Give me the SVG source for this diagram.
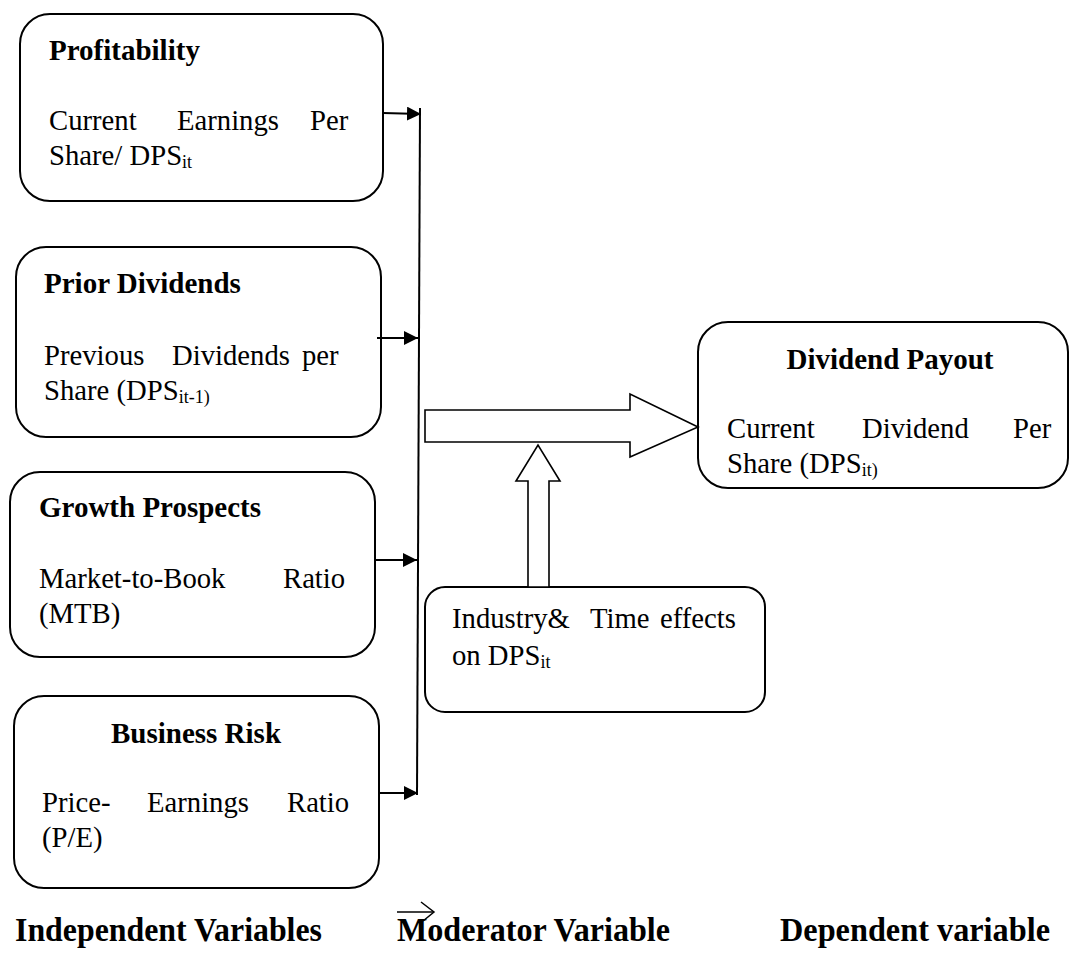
<svg xmlns="http://www.w3.org/2000/svg" width="1070" height="956" viewBox="0 0 1070 956">
<style>
.box{fill:#fff;stroke:#000;stroke-width:2}
.t{font-family:"Liberation Serif","Times New Roman",serif;font-size:28.7px;fill:#000}
.b{font-weight:bold;font-size:29px}
.sub{font-size:18px}
.big{fill:#fff;stroke:#000;stroke-width:1.6}
.conn{stroke:#000;stroke-width:2;fill:none}
.lbl{font-family:"Liberation Serif","Times New Roman",serif;font-weight:bold;font-size:33px;fill:#000}
</style>
<defs>
<marker id="ah" markerWidth="14" markerHeight="14" refX="14" refY="7" orient="auto" markerUnits="userSpaceOnUse"><path d="M0,0 L14,7 L0,14 z" fill="#000"/></marker>
</defs>
<rect width="1070" height="956" fill="#fff"/>

<g id="profitability">
<rect class="box" x="20" y="14" width="363" height="187" rx="30"/>
<text class="t b" x="49" y="60">Profitability</text>
<text class="t" y="130"><tspan x="49">Current</tspan><tspan x="177">Earnings</tspan><tspan x="310">Per</tspan></text>
<text class="t" x="49" y="165">Share/ DPS<tspan class="sub" dy="3">it</tspan></text>
</g>

<g id="prior-dividends">
<rect class="box" x="16" y="247" width="365" height="190" rx="30"/>
<text class="t b" x="44" y="293">Prior Dividends</text>
<text class="t" y="365"><tspan x="44">Previous</tspan><tspan x="172">Dividends</tspan><tspan x="302">per</tspan></text>
<text class="t" x="44" y="400">Share (DPS<tspan class="sub" dy="3">it-1)</tspan></text>
</g>

<g id="growth-prospects">
<rect class="box" x="10" y="472" width="365" height="185" rx="30"/>
<text class="t b" x="39" y="517">Growth Prospects</text>
<text class="t" y="588"><tspan x="39">Market-to-Book</tspan><tspan x="283">Ratio</tspan></text>
<text class="t" x="39" y="623">(MTB)</text>
</g>

<g id="business-risk">
<rect class="box" x="14" y="696" width="365" height="192" rx="30"/>
<text class="t b" x="196" y="743" text-anchor="middle">Business Risk</text>
<text class="t" y="812"><tspan x="42">Price-</tspan><tspan x="147">Earnings</tspan><tspan x="287">Ratio</tspan></text>
<text class="t" x="42" y="847">(P/E)</text>
</g>

<g id="dividend-payout">
<rect class="box" x="698" y="322" width="370" height="166" rx="30"/>
<text class="t b" x="890" y="369" text-anchor="middle">Dividend Payout</text>
<text class="t" y="438"><tspan x="727">Current</tspan><tspan x="862">Dividend</tspan><tspan x="1013">Per</tspan></text>
<text class="t" x="727" y="473">Share (DPS<tspan class="sub" dy="3">it)</tspan></text>
</g>

<g id="moderator">
<rect class="box" x="425" y="587" width="340" height="125" rx="20"/>
<text class="t" y="628"><tspan x="452">Industry&amp;</tspan><tspan x="590">Time</tspan><tspan x="660">effects</tspan></text>
<text class="t" x="452" y="665">on DPS<tspan class="sub" dy="3">it</tspan></text>
</g>

<g id="connectors">
<line class="conn" x1="420" y1="108" x2="417" y2="795"/>
<line class="conn" x1="383" y1="113" x2="421" y2="114" marker-end="url(#ah)"/>
<line class="conn" x1="377" y1="338" x2="418" y2="338" marker-end="url(#ah)"/>
<line class="conn" x1="375" y1="560" x2="417" y2="560" marker-end="url(#ah)"/>
<line class="conn" x1="379" y1="793" x2="418" y2="793" marker-end="url(#ah)"/>
<polygon class="big" points="425,410 630,410 630,394 698,427 630,457 630,442 425,442"/>
<polygon class="big" points="528,587 528,481 516,481 538,445 560,481 549,481 549,587"/>
</g>

<g id="labels">
<text class="lbl" x="15" y="941" textLength="307" lengthAdjust="spacingAndGlyphs">Independent Variables</text>
<text class="lbl" x="397" y="941" textLength="273" lengthAdjust="spacingAndGlyphs">Moderator Variable</text>
<text class="lbl" x="780" y="941" textLength="270" lengthAdjust="spacingAndGlyphs">Dependent variable</text>
<line x1="397" y1="912" x2="433" y2="912" stroke="#000" stroke-width="1.5"/>
<polyline points="421,902 434,912 423,921" fill="none" stroke="#000" stroke-width="1.5"/>
</g>
</svg>
